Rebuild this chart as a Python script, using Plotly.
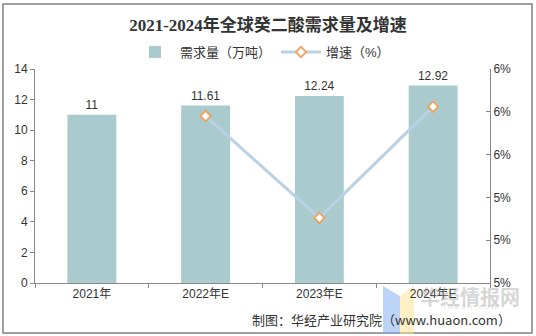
import plotly.graph_objects as go

categories = ["2021年", "2022年E", "2023年E", "2024年E"]
demand = [11, 11.61, 12.24, 12.92]
demand_labels = ["11", "11.61", "12.24", "12.92"]
growth = [None, 5.545, 5.426, 5.556]

title = "2021-2024年全球癸二酸需求量及增速"
source = "制图：华经产业研究院（www.huaon.com）"

font_sans = "Liberation Sans, Arial, Noto Sans CJK SC, sans-serif"

fig = go.Figure()
fig.add_trace(go.Bar(
    x=categories, y=demand, name="需求量（万吨）",
    marker=dict(color="#AACBCD", line=dict(width=0)),
    width=0.43,
    text=demand_labels, textposition="outside",
    textfont=dict(size=12, color="#333333", family=font_sans),
    cliponaxis=False,
))
fig.add_trace(go.Scatter(
    x=categories, y=growth, name="增速（%）", yaxis="y2",
    mode="lines+markers",
    line=dict(color="#B9D1E4", width=3),
    marker=dict(symbol="diamond", size=8, color="#FFFFFF",
                line=dict(color="#F0A05A", width=1.8)),
    connectgaps=False,
))

fig.update_layout(
    width=536, height=336,
    margin=dict(l=35, r=46, t=69, b=53),
    paper_bgcolor="white", plot_bgcolor="white",
    font=dict(family=font_sans, size=12, color="#333333"),
    title=dict(text="<b>" + title + "</b>", x=0.5, xanchor="center",
               y=1 - 25 / 336, yanchor="middle",
               font=dict(family="Liberation Serif, Noto Sans CJK SC, serif",
                         size=17, color="#333333")),
    legend=dict(orientation="h", x=0.5, xanchor="center", y=1 + 17 / 214,
                yanchor="middle", font=dict(size=13, color="#333333"),
                bgcolor="rgba(0,0,0,0)", itemwidth=40, tracegroupgap=0),
    bargap=0.5,
    showlegend=True,
    xaxis=dict(type="category", showline=True, linecolor="#888888",
               linewidth=1, ticks="outside", tickson="boundaries",
               ticklen=4, tickcolor="#888888", showgrid=False,
               tickfont=dict(size=12, color="#333333")),
    yaxis=dict(range=[0, 14], dtick=2, showline=True, linecolor="#888888",
               linewidth=1, ticks="outside", ticklen=4, tickcolor="#888888",
               showgrid=False, zeroline=False,
               tickfont=dict(size=12, color="#333333")),
    yaxis2=dict(range=[5.35, 5.60], tick0=5.35, dtick=0.05, overlaying="y",
                side="right", showline=True, linecolor="#888888", linewidth=1,
                ticks="inside", ticklen=4, tickcolor="#888888",
                tickformat=".0f", ticksuffix="%", showgrid=False,
                zeroline=False, tickfont=dict(size=12, color="#333333")),
)

# outer border
fig.add_shape(type="rect", xref="paper", yref="paper",
              x0=-32 / 455, x1=497 / 455, y0=-50 / 214, y1=279 / 214,
              line=dict(color="#808080", width=1.5), fillcolor="rgba(0,0,0,0)",
              layer="below")

# watermark logo (faint, drawn below data)
fig.add_shape(type="path", xref="paper", yref="paper",
              path="M %f %f L %f %f L %f %f L %f %f Z" % (
                  (383 - 35) / 455, (283 - 286) / 214,
                  (400 - 35) / 455, (283 - 296) / 214,
                  (400 - 35) / 455, (283 - 334) / 214,
                  (383 - 35) / 455, (283 - 334) / 214),
              fillcolor="rgba(120,170,240,0.5)", line=dict(width=0),
              layer="below")
fig.add_shape(type="path", xref="paper", yref="paper",
              path="M %f %f L %f %f L %f %f L %f %f Z" % (
                  (400 - 35) / 455, (283 - 296) / 214,
                  (414 - 35) / 455, (283 - 286) / 214,
                  (414 - 35) / 455, (283 - 334) / 214,
                  (400 - 35) / 455, (283 - 334) / 214),
              fillcolor="rgba(255,225,140,0.5)", line=dict(width=0),
              layer="below")
fig.add_annotation(xref="paper", yref="paper", x=(470 - 35) / 455,
                   y=(283 - 296) / 214, text="<b>华经情报网</b>",
                   showarrow=False, xanchor="center", yanchor="middle",
                   font=dict(size=20, color="rgba(150,150,150,0.4)",
                             family="Noto Sans CJK SC"))
fig.add_annotation(xref="paper", yref="paper", x=(470 - 35) / 455,
                   y=(283 - 306) / 214, text="h u a o n . c o m",
                   showarrow=False, xanchor="center", yanchor="middle",
                   font=dict(size=8, color="rgba(170,170,170,0.35)"))

# source
fig.add_annotation(xref="paper", yref="paper", x=(513 - 35) / 455,
                   y=(283 - 319) / 214, text=source, showarrow=False,
                   xanchor="right", yanchor="middle",
                   font=dict(size=13, color="#333333",
                             family="Noto Sans CJK SC, sans-serif"))

fig.write_html("out.html")
